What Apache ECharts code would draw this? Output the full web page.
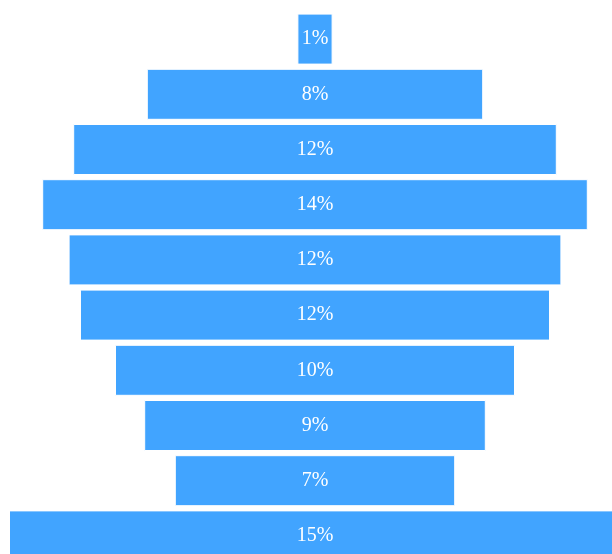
<!DOCTYPE html>
<html>
<head>
<meta charset="utf-8">
<script src="https://cdn.jsdelivr.net/npm/echarts@6/dist/echarts.min.js"></script>
<style>html,body{margin:0;padding:0;background:#fff;overflow:hidden;width:612px;height:554px;}#c{width:640px;height:580px;}</style>
</head>
<body>
<div id="c"></div>
<script>
var categories = ['A', 'B', 'C', 'D', 'E', 'F', 'G', 'H', 'I', 'J'];
var values = [0.88, 8.41, 12.09, 13.64, 12.32, 11.75, 10.0, 8.54, 7.01, 15.3];

var total = values.reduce(function (a, b) { return a + b; }, 0);
var maxV = Math.max.apply(null, values);
var offsets = values.map(function (v) { return (maxV - v) / 2; });

var chart = echarts.init(document.getElementById('c'));
chart.setOption({
  animation: false,
  grid: { left: 9, top: 11.5, width: 612, height: 552, containLabel: false },
  xAxis: { type: 'value', min: 0, max: maxV, show: false },
  yAxis: { type: 'category', data: categories, inverse: true, show: false },
  series: [
    {
      type: 'bar', stack: 's', data: offsets, silent: true,
      itemStyle: { color: 'transparent' }, barWidth: 51
    },
    {
      type: 'bar', stack: 's', data: values, barWidth: 51,
      itemStyle: { color: '#41a4ff', borderColor: '#ffffff', borderWidth: 1 },
      label: {
        show: true, position: 'inside', color: '#ffffff',
        fontFamily: 'Liberation Serif', fontSize: 20,
        formatter: function (p) { return Math.round(p.value / total * 100) + '%'; }
      }
    }
  ]
});
</script>
</body>
</html>
